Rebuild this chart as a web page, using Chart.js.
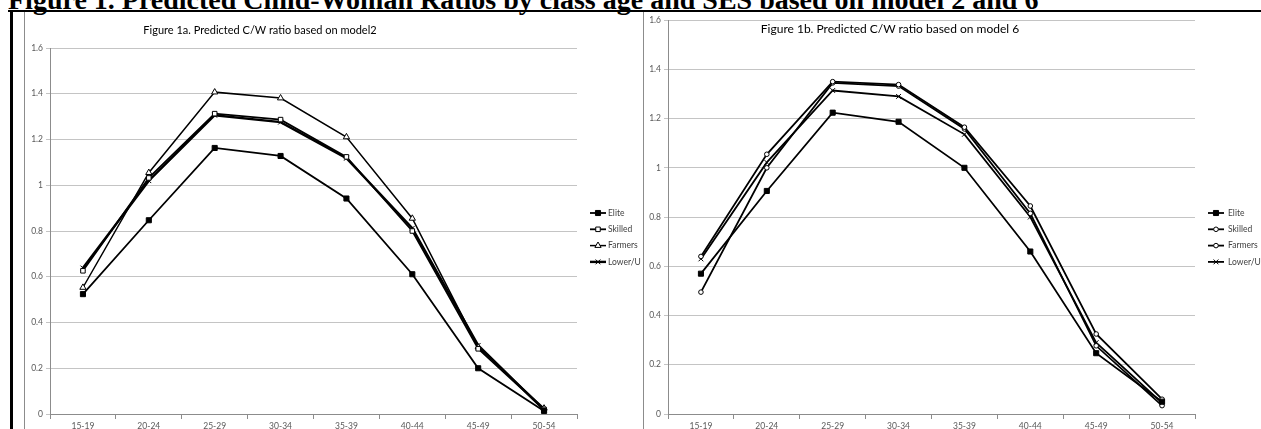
<!DOCTYPE html>
<html>
<head>
<meta charset="utf-8">
<script src="https://cdn.jsdelivr.net/npm/chart.js@4.4.1/dist/chart.umd.min.js"></script>
<style>
  html, body { margin:0; padding:0; background:#fff; }
  body { width:1261px; height:429px; overflow:hidden; position:relative; }
  #mainTitle { position:absolute; left:8px; top:-14px; font: bold 28px/28px "Liberation Serif", "Times New Roman", serif; color:#000; white-space:nowrap; }
  .rule { position:absolute; background:#000; }
  .frame { position:absolute; background:#8c8c8c; }
  .sub { position:absolute; font-family:"Liberation Sans Narrow", "Lato", sans-serif; color:#000; white-space:nowrap; transform:translate(-50%,-50%); }
  canvas { position:absolute; }
</style>
</head>
<body>
<div id="mainTitle">Figure 1. Predicted Child-Woman Ratios by class age and SES based on model 2 and 6</div>
<div class="rule" style="left:8px; top:10px; width:1253px; height:2px;"></div>
<div class="rule" style="left:10px; top:11px; width:3px; height:418px;"></div>
<div class="frame" style="left:24px; top:12px; width:1px; height:417px;"></div>
<div class="frame" style="left:643px; top:12px; width:1px; height:417px;"></div>

<canvas id="c1" width="617" height="417" style="left:25px; top:12px; width:617px; height:417px;"></canvas>
<canvas id="c2" width="617" height="417" style="left:644px; top:12px; width:617px; height:417px;"></canvas>

<div class="sub" style="left:260px; top:29px; font-size:11px;">Figure 1a. Predicted C/W ratio based on model2</div>
<div class="sub" style="left:890px; top:28px; font-size:12px;">Figure 1b. Predicted C/W ratio based on model 6</div>

<script>
// ---- Data ----
const categories = ['15-19','20-24','25-29','30-34','35-39','40-44','45-49','50-54'];
const seriesNames = ['Elite','Skilled','Farmers','Lower/U'];

// Figure 1a (model 2)
const elite2   = [0.524, 0.847, 1.163, 1.128, 0.942, 0.611, 0.200, 0.013];
const skilled2 = [0.626, 1.032, 1.313, 1.287, 1.124, 0.800, 0.285, 0.020];
const farmers2 = [0.553, 1.055, 1.407, 1.381, 1.211, 0.855, 0.292, 0.025];
const lower2   = [0.638, 1.020, 1.306, 1.276, 1.118, 0.812, 0.300, 0.018];

// Figure 1b (model 6)
const elite6   = [0.570, 0.906, 1.224, 1.187, 1.000, 0.660, 0.247, 0.050];
const skilled6 = [0.640, 1.055, 1.350, 1.338, 1.165, 0.845, 0.325, 0.060];
const farmers6 = [0.495, 1.000, 1.345, 1.332, 1.158, 0.815, 0.277, 0.034];
const lower6   = [0.630, 1.022, 1.314, 1.290, 1.136, 0.800, 0.290, 0.045];

const yTickLabels = ['0','0.2','0.4','0.6','0.8','1','1.2','1.4','1.6'];

// ---- helpers ----
function drawMarker(ctx, style, x, y, r, fill, stroke) {
  ctx.save();
  ctx.fillStyle = fill; ctx.strokeStyle = stroke; ctx.lineWidth = 1;
  ctx.beginPath();
  if (style === 'rect') {
    const s = r * Math.SQRT1_2;
    ctx.rect(x - s, y - s, 2*s, 2*s);
    ctx.fill(); ctx.stroke();
  } else if (style === 'triangle') {
    let a = 0;
    ctx.moveTo(x + Math.sin(a)*r, y - Math.cos(a)*r);
    a += 2*Math.PI/3; ctx.lineTo(x + Math.sin(a)*r, y - Math.cos(a)*r);
    a += 2*Math.PI/3; ctx.lineTo(x + Math.sin(a)*r, y - Math.cos(a)*r);
    ctx.closePath(); ctx.fill(); ctx.stroke();
  } else if (style === 'circle') {
    ctx.arc(x, y, r, 0, Math.PI*2); ctx.fill(); ctx.stroke();
  } else if (style === 'crossRot') {
    const o = Math.cos(Math.PI/4) * r;
    ctx.moveTo(x - o, y - o); ctx.lineTo(x + o, y + o);
    ctx.moveTo(x - o, y + o); ctx.lineTo(x + o, y - o);
    ctx.stroke();
  }
  ctx.restore();
}

const lineLegend = {
  id: 'lineLegend',
  afterDraw(chart, args, opts) {
    const ctx = chart.ctx, ca = chart.chartArea;
    chart.data.datasets.forEach((ds, i) => {
      const y = opts.top + i * opts.gap;
      const x0 = ca.right + opts.offset;
      ctx.save();
      ctx.strokeStyle = ds.borderColor; ctx.lineWidth = ds.borderWidth;
      ctx.beginPath(); ctx.moveTo(x0, y); ctx.lineTo(x0 + opts.len, y); ctx.stroke();
      drawMarker(ctx, ds.pointStyle, x0 + opts.len/2, y, ds.pointRadius, ds.pointBackgroundColor, ds.pointBorderColor);
      ctx.fillStyle = opts.color; ctx.font = opts.font; ctx.textBaseline = 'middle'; ctx.textAlign = 'left';
      ctx.fillText(ds.label, x0 + opts.len + opts.textGap, y);
      ctx.restore();
    });
  }
};

function ds(label, data, style, r, fill, width) {
  return {
    label, data, pointStyle: style, pointRadius: r, pointHoverRadius: r,
    pointBackgroundColor: fill, pointBorderColor: '#000', pointBorderWidth: 1,
    borderColor: '#000', borderWidth: width, tension: 0, fill: false
  };
}

function makeChart(id, datasets, cfg) {
  return new Chart(document.getElementById(id), {
    type: 'line',
    data: { labels: categories, datasets },
    options: {
      responsive: false, animation: false, devicePixelRatio: 1,
      layout: { padding: { top: cfg.padTop, right: cfg.padRight, left: 0, bottom: 0 } },
      plugins: {
        legend: { display: false }, tooltip: { enabled: false }, title: { display: false },
        lineLegend: cfg.legend
      },
      scales: {
        x: {
          offset: true,
          grid: { offset: true, drawOnChartArea: false, drawTicks: true, tickLength: 5, color: '#8c8c8c' },
          border: { display: true, color: '#8c8c8c' },
          ticks: { color: '#595959', padding: 2, maxRotation: 0, autoSkip: false,
                   font: { family: '"Liberation Sans Narrow", Lato, sans-serif', size: 8.5 } },
          afterFit(scale) { scale.height = cfg.xHeight; }
        },
        y: {
          min: 0, max: 1.6,
          ticks: { stepSize: 0.2, color: '#595959', padding: 3,
                   font: { family: '"Liberation Sans Narrow", Lato, sans-serif', size: 8.5 },
                   callback: (v, i) => yTickLabels[i] },
          grid: { color: '#c4c4c4', lineWidth: 1, tickLength: 4, drawTicks: true },
          border: { display: true, color: '#8c8c8c' },
          afterFit(scale) { scale.width = cfg.yWidth; }
        }
      }
    },
    plugins: [lineLegend]
  });
}

makeChart('c1', [
  ds(seriesNames[0], elite2, 'rect', 3.6, '#000', 1.8),
  ds(seriesNames[1], skilled2, 'rect', 3.2, '#fff', 1.8),
  ds(seriesNames[2], farmers2, 'triangle', 3.6, '#fff', 1.5),
  ds(seriesNames[3], lower2, 'crossRot', 3.4, '#000', 2.4)
], { padTop: 36, padRight: 65, xHeight: 15, yWidth: 25,
     legend: { top: 201, gap: 16.3, offset: 13, len: 16, textGap: 2, color: '#404040',
               font: '8.5px "Liberation Sans Narrow", Lato, sans-serif' } });

makeChart('c2', [
  ds(seriesNames[0], elite6, 'rect', 3.6, '#000', 1.8),
  ds(seriesNames[1], skilled6, 'circle', 2.3, '#fff', 1.8),
  ds(seriesNames[2], farmers6, 'circle', 2.3, '#fff', 1.8),
  ds(seriesNames[3], lower6, 'crossRot', 3.4, '#000', 1.8)
], { padTop: 7, padRight: 66, xHeight: 15, yWidth: 24,
     legend: { top: 201, gap: 16.3, offset: 13, len: 16, textGap: 4, color: '#404040',
               font: '8.5px "Liberation Sans Narrow", Lato, sans-serif' } });
</script>
</body>
</html>
